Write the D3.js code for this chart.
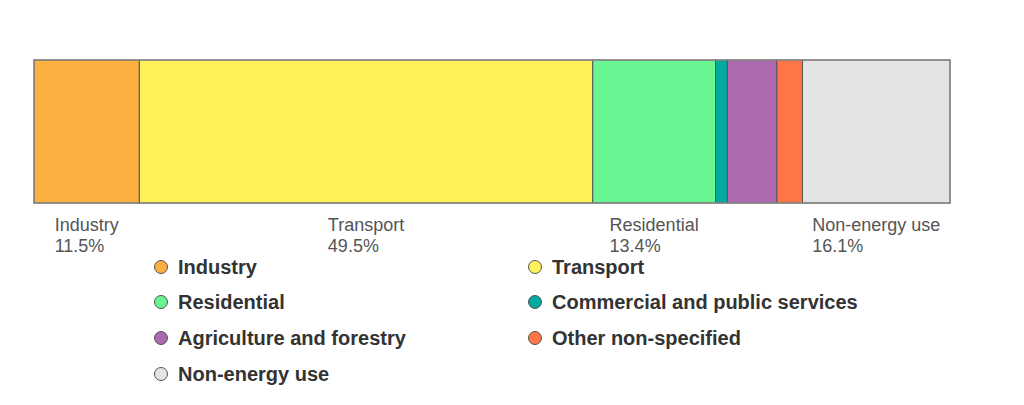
<!DOCTYPE html>
<html>
<head>
<meta charset="utf-8">
<script src="https://cdn.jsdelivr.net/npm/d3@7"></script>
<style>
  body { margin: 0; background: #fff; }
  svg { display: block; font-family: "Liberation Sans", Arial, sans-serif; }
</style>
</head>
<body>
<script>
// sectors and their share (%)
const sectors = ["Industry", "Transport", "Residential", "Commercial and public services",
  "Agriculture and forestry", "Other non-specified", "Non-energy use"];
const shares = [11.5, 49.5, 13.4, 1.3, 5.4, 2.8, 16.1];
const shortNames = ["Industry", "Transport", "Residential", "Commercial", "Agriculture", "Other", "Non-energy use"];
const colors = ["#fbb040", "#fff159", "#69f592", "#00aa9d", "#ad69b0", "#ff7548", "#e4e4e4"];

const w = 1024, h = 405;

const svg = d3.select("body").append("svg")
  .attr("width", w)
  .attr("height", h)

let acc = 0;
const segs = shares.map((v, i) => {
  const s = { name: sectors[i], label: shortNames[i], value: v, start: acc, color: colors[i] };
  acc += v;
  return s;
});

const xScale = d3.scaleLinear().domain([0, acc]).range([34, 950]);
const barTop = 60, barH = 143;

svg.selectAll("rect.seg")
  .data(segs)
  .enter()
  .append("rect")
  .attr("class", "seg")
  .attr("x", d => xScale(d.start))
  .attr("y", barTop)
  .attr("width", d => xScale(d.start + d.value) - xScale(d.start))
  .attr("height", barH)
  .attr("fill", d => d.color)
  .attr("stroke", "#555")
  .attr("stroke-width", 1)

// outer frame
svg.append("rect")
  .attr("x", xScale(0))
  .attr("y", barTop)
  .attr("width", xScale(acc) - xScale(0))
  .attr("height", barH)
  .attr("fill", "none")
  .attr("stroke", "#8a8a8a")
  .attr("stroke-width", 1.5)

// labels under large segments
const big = segs.filter(d => d.value >= 10);
big.forEach(d => {
  const g = svg.append("g");
  const t1 = g.append("text").text(d.label)
    .attr("y", 231).attr("font-size", "18px").attr("fill", "#555");
  const t2 = g.append("text").text(d.value.toFixed(1) + "%")
    .attr("y", 252).attr("font-size", "18px").attr("fill", "#555");
  const wd = Math.max(t1.node().getComputedTextLength(), t2.node().getComputedTextLength());
  const cx = (xScale(d.start) + xScale(d.start + d.value)) / 2;
  t1.attr("x", cx - wd / 2);
  t2.attr("x", cx - wd / 2);
});

// Legend
const colX = [161, 535];
const rowY = [267, 302, 338, 374];
const leg = svg.selectAll("g.leg")
  .data(segs)
  .enter()
  .append("g")
  .attr("class", "leg")
  .attr("transform", (d, i) => `translate(${colX[i % 2]},${rowY[Math.floor(i / 2)]})`)

leg.append("circle")
  .attr("r", 6.5)
  .attr("fill", d => d.color)
  .attr("stroke", "#555")
  .attr("stroke-width", 1)

leg.append("text")
  .attr("x", 17)
  .attr("y", 6.5)
  .text(d => d.name)
  .attr("font-size", "20px")
  .attr("font-weight", "bold")
  .attr("fill", "#333")
</script>
</body>
</html>
